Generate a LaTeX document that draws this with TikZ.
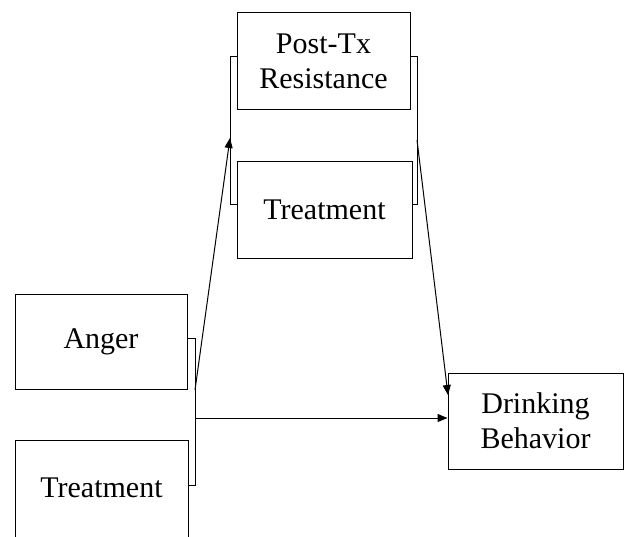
\documentclass[tikz,border=0pt]{standalone}
\usepackage{fontspec}
\setmainfont{Liberation Serif}
\usetikzlibrary{arrows.meta}
\begin{document}
\begin{tikzpicture}[x=1pt,y=-1pt,
  box/.style={draw,line width=1pt,inner sep=0pt,font=\fontsize{30}{35}\selectfont,align=center},
  brk/.style={draw,line width=1pt},
  arr/.style={draw,line width=1pt,arrows={-Triangle[length=10pt,width=8pt]}}]
\useasboundingbox (0,0) rectangle (628,537);
\begin{scope}
\clip (0,0) rectangle (628,537);
\node[box,minimum width=173pt,minimum height=97pt] (post) at (323.5,61.5) {Post-Tx\\Resistance};
\node[box,minimum width=175pt,minimum height=96pt] (treatB) at (324.5,210) {Treatment};
\node[box,minimum width=172pt,minimum height=95pt] (anger) at (101,341.5) {Anger};
\node[box,minimum width=173pt,minimum height=100pt] (treatA) at (101.5,490) {};
\node[font=\fontsize{30}{35}\selectfont] (treatAtext) at (101.5,488) {Treatment};
\node[box,minimum width=175pt,minimum height=96pt] (drink) at (535.5,421) {Drinking\\Behavior};
\end{scope}
% brackets
\coordinate (bl1) at (230,57); \coordinate (bl2) at (230,205);
\coordinate (br1) at (417,57); \coordinate (br2) at (417,205);
\coordinate (ba1) at (195,338); \coordinate (ba2) at (195,485);
\draw[brk] (post.west |- bl1) -- (bl1) -- (bl2) -- (treatB.west |- bl2);
\draw[brk] (post.east |- br1) -- (br1) -- (br2) -- (treatB.east |- br2);
\draw[brk] (anger.east |- ba1) -- (ba1) -- (ba2) -- (treatA.east |- ba2);
% arrows
\coordinate (s1) at (195,390);
\coordinate (t1) at (230,138);
\coordinate (s2) at (417,140);
\coordinate (t2) at (448,395);
\coordinate (s3) at (195,418);
\draw[arr] (s1) -- (t1);
\draw[arr] (s2) -- (t2);
\draw[arr] (s3) -- (drink.west |- s3);
\end{tikzpicture}
\end{document}
